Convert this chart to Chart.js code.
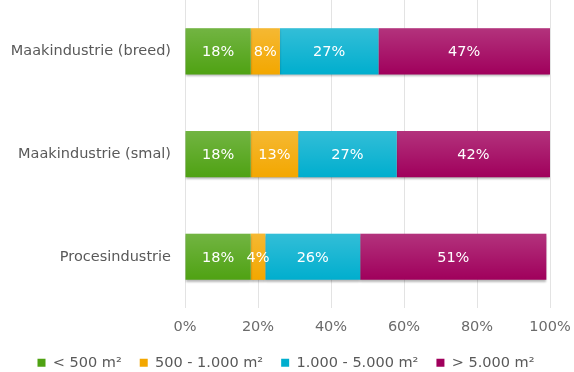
<!DOCTYPE html>
<html>
<head>
<meta charset="utf-8">
<script src="https://cdn.jsdelivr.net/npm/chart.js@4"></script>
<style>
  html, body { margin: 0; padding: 0; background: #fff; }
  #wrap { width: 574px; height: 372px; }
</style>
</head>
<body>
<div id="wrap"><canvas id="c" width="574" height="372"></canvas></div>
<script>
// Share of establishments per floor-area class, by industry type
const categories = ['Maakindustrie (breed)', 'Maakindustrie (smal)', 'Procesindustrie'];
const seriesNames = ['< 500 m²', '500 - 1.000 m²', '1.000 - 5.000 m²', '> 5.000 m²'];
const small = [18, 18, 18];
const medium = [8, 13, 4];
const large = [27, 27, 26];
const xlarge = [47, 42, 51];
const xTicks = ['0%', '20%', '40%', '60%', '80%', '100%'];

const colors = ['#4fa213', '#f3a700', '#00aece', '#a0005c'];
const seriesValues = [small, medium, large, xlarge];

const FONT = '"DejaVu Sans", Verdana, sans-serif';
const FS = 14.5;

// Soft top highlight and drop shadow on each bar segment, plus value labels
const barStyle = {
  id: 'barStyle',
  afterLayout(chart) {
    // nudge the legend row so it sits centred without the trailing gap
    if (chart.legend) {
      chart.legend.left += 11;
      chart.legend.right += 11;
    }
  },
  beforeDatasetsDraw(chart) {
    const ctx = chart.ctx;
    ctx.save();
    ctx.shadowColor = 'rgba(0,0,0,0.28)';
    ctx.shadowOffsetY = 2;
    ctx.shadowBlur = 2;
  },
  afterDatasetsDraw(chart) {
    const ctx = chart.ctx;
    ctx.restore();
    ctx.save();
    chart.data.datasets.forEach((ds, i) => {
      const meta = chart.getDatasetMeta(i);
      meta.data.forEach((bar) => {
        const p = bar.getProps(['x', 'y', 'base', 'height'], true);
        const top = p.y - p.height / 2;
        const g = ctx.createLinearGradient(0, top, 0, top + p.height);
        g.addColorStop(0, 'rgba(255,255,255,0.2)');
        g.addColorStop(1, 'rgba(255,255,255,0)');
        ctx.fillStyle = g;
        ctx.fillRect(Math.min(p.base, p.x), top, Math.abs(p.x - p.base), p.height);
      });
    });
    ctx.fillStyle = '#ffffff';
    ctx.font = FS + 'px ' + FONT;
    ctx.textAlign = 'center';
    ctx.textBaseline = 'middle';
    chart.data.datasets.forEach((ds, i) => {
      const meta = chart.getDatasetMeta(i);
      meta.data.forEach((bar, j) => {
        const p = bar.getProps(['x', 'y', 'base'], true);
        ctx.fillText(ds.data[j] + '%', (p.x + p.base) / 2, p.y + 1);
      });
    });
    ctx.restore();
  }
};

new Chart(document.getElementById('c'), {
  type: 'bar',
  data: {
    labels: categories,
    datasets: seriesNames.map((name, i) => ({
      label: name,
      data: seriesValues[i],
      backgroundColor: colors[i],
      borderWidth: 0,
      barPercentage: 0.9,
      categoryPercentage: 0.5
    }))
  },
  options: {
    indexAxis: 'y',
    responsive: false,
    animation: false,
    layout: { padding: { top: 0, right: 24, left: 0, bottom: -8 } },
    scales: {
      x: {
        stacked: true,
        min: 0,
        max: 100,
        grid: { color: '#e3e3e3', drawTicks: false, lineWidth: 1 },
        border: { display: false },
        afterFit(scale) {
          scale.height -= 8;
          scale.paddingLeft = 0;
          scale.paddingRight = 0;
        },
        ticks: {
          stepSize: 20,
          padding: 10,
          color: '#6b6b6b',
          font: { family: FONT, size: FS },
          callback: (v, idx) => xTicks[idx]
        }
      },
      y: {
        stacked: true,
        grid: { display: false },
        border: { display: false },
        afterFit(scale) {
          scale.width = 185;
          scale.paddingTop = 0;
          scale.paddingBottom = 0;
        },
        ticks: {
          padding: 6,
          color: '#595959',
          font: { family: FONT, size: FS }
        }
      }
    },
    plugins: {
      legend: {
        position: 'bottom',
        labels: {
          boxWidth: 8,
          boxHeight: 8,
          padding: 18,
          color: '#595959',
          font: { family: FONT, size: FS }
        }
      },
      tooltip: { enabled: false }
    }
  },
  plugins: [barStyle]
});
</script>
</body>
</html>
